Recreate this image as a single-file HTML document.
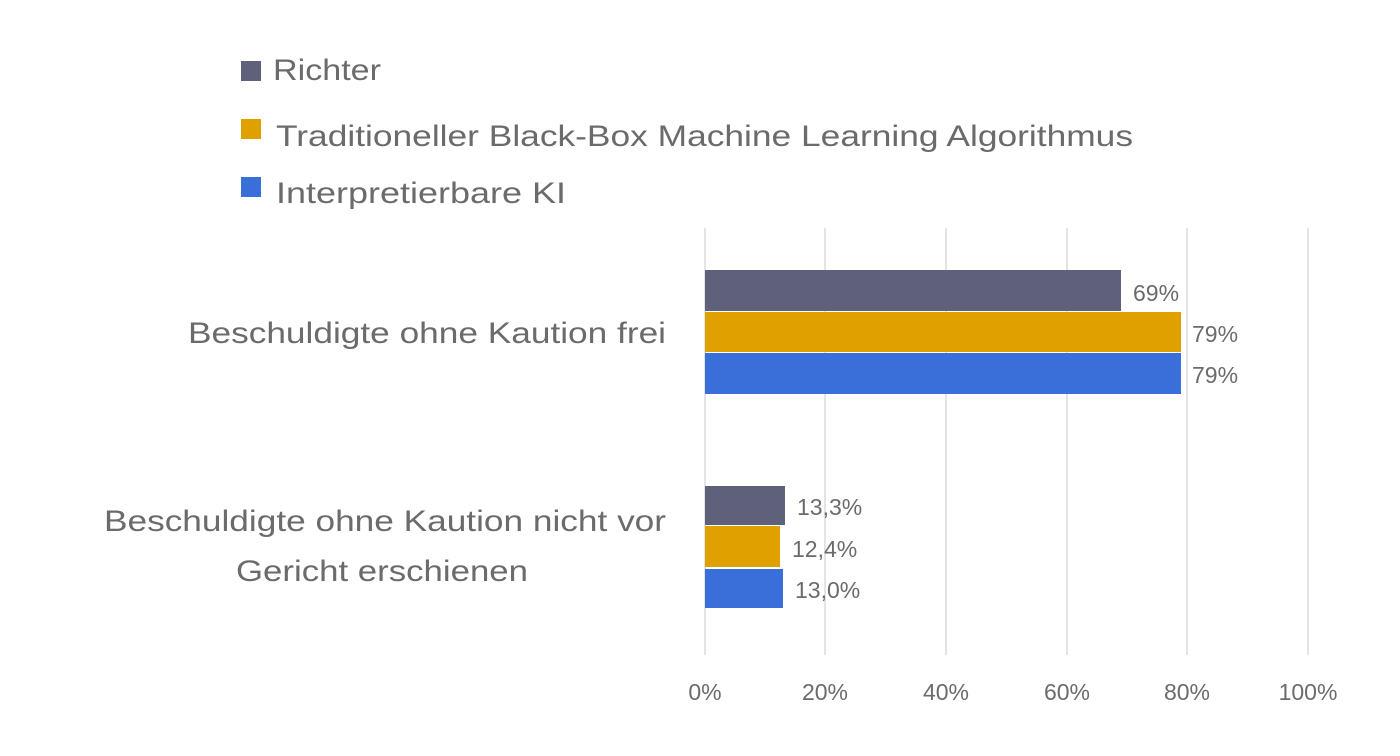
<!DOCTYPE html>
<html><head><meta charset="utf-8"><style>body{margin:0;background:#fff}svg{display:block}</style></head>
<body>
<svg width="1400" height="756" viewBox="0 0 1400 756" xmlns="http://www.w3.org/2000/svg" font-family="Liberation Sans, sans-serif" fill="#6b6b6b">
<g stroke="#dcdcdc" stroke-width="1.5">
<line x1="705" y1="228" x2="705" y2="655"/><line x1="825" y1="228" x2="825" y2="655"/><line x1="946" y1="228" x2="946" y2="655"/><line x1="1067" y1="228" x2="1067" y2="655"/><line x1="1187" y1="228" x2="1187" y2="655"/><line x1="1308" y1="228" x2="1308" y2="655"/>
</g>
<rect x="241" y="61" width="20" height="20" fill="#5f607a"/>
<rect x="241" y="119" width="20" height="20" fill="#e0a100"/>
<rect x="241" y="177" width="20" height="20" fill="#3a6fd9"/>
<g font-size="30">
<text x="273" y="80" textLength="108" lengthAdjust="spacingAndGlyphs">Richter</text>
<text x="276" y="146" textLength="857" lengthAdjust="spacingAndGlyphs">Traditioneller Black-Box Machine Learning Algorithmus</text>
<text x="276" y="203" textLength="290" lengthAdjust="spacingAndGlyphs">Interpretierbare KI</text>
<text x="666" y="343" text-anchor="end" textLength="478" lengthAdjust="spacingAndGlyphs">Beschuldigte ohne Kaution frei</text>
<text x="666" y="531" text-anchor="end" textLength="562" lengthAdjust="spacingAndGlyphs">Beschuldigte ohne Kaution nicht vor</text>
<text x="382" y="581" text-anchor="middle" textLength="292" lengthAdjust="spacingAndGlyphs">Gericht erschienen</text>
</g>
<rect x="705" y="270" width="416" height="41" fill="#5f607a"/>
<rect x="705" y="312" width="476" height="40" fill="#e0a100"/>
<rect x="705" y="353" width="476" height="41" fill="#3a6fd9"/>
<rect x="705" y="486" width="80" height="39" fill="#5f607a"/>
<rect x="705" y="526" width="75" height="41" fill="#e0a100"/>
<rect x="705" y="569" width="78" height="39" fill="#3a6fd9"/>
<g font-size="23">
<text x="1133" y="301">69%</text>
<text x="1192" y="342">79%</text>
<text x="1192" y="383">79%</text>
<text x="797" y="515">13,3%</text>
<text x="792" y="557">12,4%</text>
<text x="795" y="598">13,0%</text>
<g text-anchor="middle">
<text x="705" y="700">0%</text><text x="825" y="700">20%</text><text x="946" y="700">40%</text><text x="1067" y="700">60%</text><text x="1187" y="700">80%</text><text x="1308" y="700">100%</text>
</g>
</g>
</svg>
</body></html>
